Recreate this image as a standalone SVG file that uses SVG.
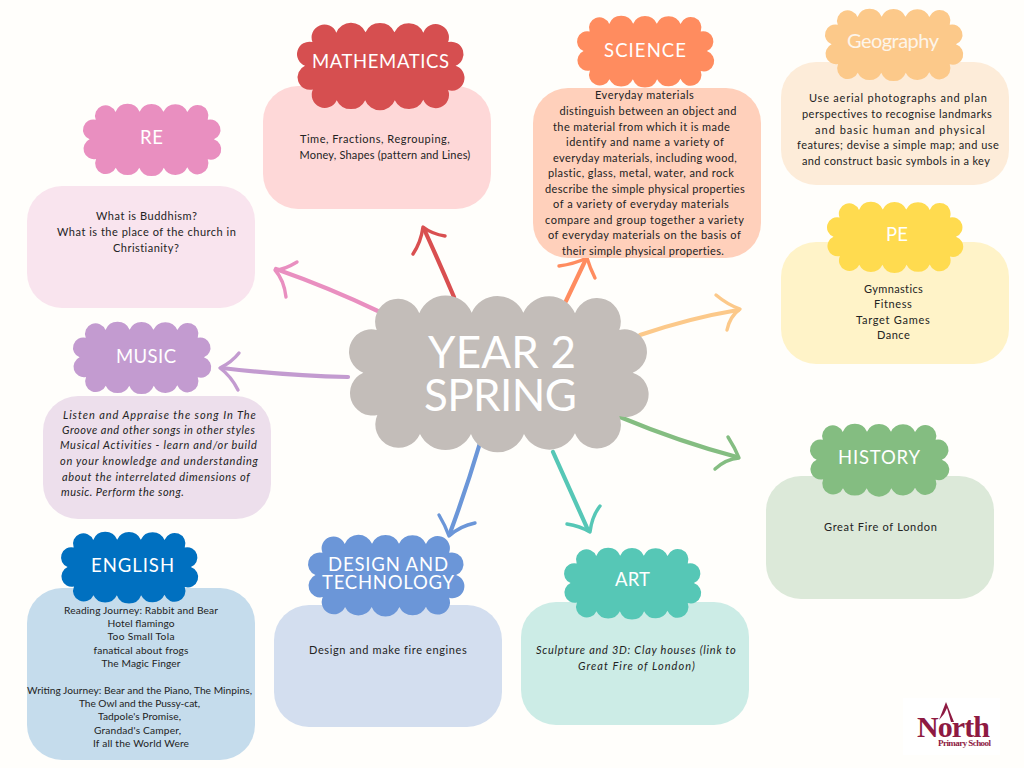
<svg xmlns="http://www.w3.org/2000/svg" width="1024" height="768" viewBox="0 0 1024 768">
<style>
text{font-family:"Lato","Open Sans",sans-serif;text-anchor:middle}
.b{font-size:11px;fill:#232323;letter-spacing:.2px}
.e{font-size:10.2px;fill:#232323}
.i{font-style:italic}
.l{font-size:18.500px;fill:#fff}
.t{font-size:44px;fill:#fff;font-weight:400}
.s{fill:none;stroke-width:4.2;stroke-linecap:round;stroke-linejoin:round}
.h{fill:none;stroke-width:3.4;stroke-linecap:round;stroke-linejoin:round}
.logo{font-family:"Liberation Serif",serif;fill:#8e1a42;font-weight:700}
</style>
<defs>
<path id="big" d="M83 102A60 60 0 0 1 211 52A85 85 0 0 1 368 50A85 85 0 0 1 523 50A85 85 0 0 1 678 52A60 60 0 0 1 811 102A67.200 67.200 0 0 1 851 230A67.200 67.200 0 0 1 811 360A60 60 0 0 1 678 412A85 85 0 0 1 525 414A85 85 0 0 1 366 414A85 85 0 0 1 213 414A60 60 0 0 1 85 357A67.200 67.200 0 0 1 43 230A67.200 67.200 0 0 1 83 102Z"/>
</defs>
<rect width="1024" height="768" fill="#fffefb"/>
<g id="connectors">
<g stroke="#e98fc0"><path class="s" d="M380 312Q330 288 276 269"/><path class="h" d="M297 262Q284 270 275 270Q284 280 286 297"/></g>
<g stroke="#d94f50"><path class="s" d="M454 297Q440 264 424 229"/><path class="h" d="M445 236Q432 234 423 227Q421 242 413 254"/></g>
<g stroke="#c39bd0"><path class="s" d="M348 377Q290 376 222 368"/><path class="h" d="M239 353Q232 362 220 368Q231 376 238 390"/></g>
<g stroke="#ff8c5f"><path class="s" d="M566 301Q576 280 586 259"/><path class="h" d="M559 266Q574 264 587 258Q590 268 595 278"/></g>
<g stroke="#fcc98a"><path class="s" d="M640 335Q690 318 738 310"/><path class="h" d="M716 295Q728 305 740 309Q730 316 727 330"/></g>
<g stroke="#84bd81"><path class="s" d="M620 417Q680 442 737 457"/><path class="h" d="M728 437Q735 448 739 458Q726 459 715 469"/></g>
<g stroke="#6b96d8"><path class="s" d="M480 443Q466 490 450 533"/><path class="h" d="M439 515Q445 525 449 536Q460 526 475 523"/></g>
<g stroke="#56c7b6"><path class="s" d="M553 452Q570 490 588 530"/><path class="h" d="M567 524Q580 526 590 532Q592 516 600 506"/></g>
</g>
<g id="re"><rect x="27" y="186" width="228" height="122" rx="35" fill="#f9e4ee"/><use href="#big" transform="translate(83 104) scale(.1538)" fill="#e98fc0"/><text class="l" x="151.500" y="144" textLength="23">RE</text>
<text class="b" x="146.500" y="220" textLength="101">What is Buddhism?</text><text class="b" x="146.500" y="236" textLength="179">What is the place of the church in</text><text class="b" x="146" y="252" textLength="66">Christianity?</text></g>
<g id="mathematics"><rect x="263" y="86" width="228" height="123" rx="35" fill="#fed8d8"/><use href="#big" transform="translate(297 23) scale(.1863)" fill="#d64f50"/><text class="l" x="380.500" y="68" textLength="137">MATHEMATICS</text>
<text class="b" x="375" y="143" textLength="150">Time, Fractions, Regrouping,</text><text class="b" x="385" y="159" textLength="171">Money, Shapes (pattern and Lines)</text></g>
<g id="science"><rect x="533" y="88" width="228" height="170" rx="35" fill="#ffd0bb"/><use href="#big" transform="translate(577 16) scale(.1526)" fill="#ff8c5f"/><text class="l" x="645" y="57" textLength="82">SCIENCE</text>
<text class="b" x="644.500" y="99" textLength="99">Everyday materials</text><text class="b" x="648" y="115" textLength="177">distinguish between an object and</text><text class="b" x="641.500" y="131" textLength="177">the material from which it is made</text><text class="b" x="645" y="146" textLength="158">identify and name a variety of</text><text class="b" x="645" y="162" textLength="184">everyday materials, including wood,</text><text class="b" x="641" y="177" textLength="186">plastic, glass, metal, water, and rock</text><text class="b" x="645" y="193" textLength="200">describe the simple physical properties</text><text class="b" x="641" y="208" textLength="176">of a variety of everyday materials</text><text class="b" x="644.500" y="224" textLength="199">compare and group together a variety</text><text class="b" x="644.500" y="239" textLength="193">of everyday materials on the basis of</text><text class="b" x="643" y="255" textLength="162">their simple physical properties.</text></g>
<g id="geography"><rect x="781" y="62" width="228" height="123" rx="35" fill="#fdecd9"/><use href="#big" transform="translate(825 9) scale(.1538)" fill="#fcc98a"/><text class="l" x="893" y="48" textLength="92" style="font-size:20px;fill:#fdf5ea">Geography</text>
<text class="b" x="898" y="102" textLength="178">Use aerial photographs and plan</text><text class="b" x="897" y="118" textLength="190">perspectives to recognise landmarks</text><text class="b" x="900" y="134" textLength="170">and basic human and physical</text><text class="b" x="898" y="149" textLength="202">features; devise a simple map; and use</text><text class="b" x="896" y="165" textLength="188">and construct basic symbols in a key</text></g>
<g id="pe"><rect x="781" y="242" width="228" height="122" rx="35" fill="#fff3c8"/><use href="#big" transform="translate(827 202) scale(.1515)" fill="#ffdb4f"/><text class="l" x="897" y="241" textLength="22">PE</text>
<text class="b" x="893.500" y="293" textLength="59">Gymnastics</text><text class="b" x="893" y="308" textLength="38">Fitness</text><text class="b" x="893" y="324" textLength="74">Target Games</text><text class="b" x="893.500" y="339" textLength="33">Dance</text></g>
<g id="music"><rect x="43" y="396" width="228" height="123" rx="35" fill="#eddfec"/><use href="#big" transform="translate(73 322) scale(.1538)" fill="#c39bd0"/><text class="l" x="146" y="363" textLength="60">MUSIC</text>
<text class="b i" x="159.500" y="419" textLength="193">Listen and Appraise the song In The</text><text class="b i" x="158.500" y="434" textLength="193">Groove and other songs in other styles</text><text class="b i" x="158.500" y="449" textLength="197">Musical Activities - learn and/or build</text><text class="b i" x="159" y="465" textLength="198">on your knowledge and understanding</text><text class="b i" x="156" y="481" textLength="188">about the interrelated dimensions of</text><text class="b i" x="122.500" y="496" textLength="123">music. Perform the song.</text></g>
<g id="history"><rect x="766" y="476" width="228" height="123" rx="35" fill="#dce9d9"/><use href="#big" transform="translate(810 424) scale(.1549)" fill="#84bd81"/><text class="l" x="879" y="464" textLength="82">HISTORY</text>
<text class="b" x="880.500" y="531" textLength="113">Great Fire of London</text></g>
<g id="english"><rect x="27" y="588" width="228" height="172" rx="35" fill="#c5dcec"/><use href="#big" transform="translate(61 532) scale(.1526)" fill="#0070c0"/><text class="l" x="132.500" y="572" textLength="83">ENGLISH</text>
<text class="e" x="141" y="614" textLength="154">Reading Journey: Rabbit and Bear</text><text class="e" x="141" y="627" textLength="67">Hotel flamingo</text><text class="e" x="141" y="640" textLength="67">Too Small Tola</text><text class="e" x="141" y="654" textLength="95">fanatical about frogs</text><text class="e" x="141" y="667" textLength="79">The Magic Finger</text><text class="e" x="139.500" y="694" textLength="225">Writing Journey: Bear and the Piano, The Minpins,</text><text class="e" x="139.500" y="707" textLength="121">The Owl and the Pussy-cat,</text><text class="e" x="139.500" y="720" textLength="83">Tadpole's Promise,</text><text class="e" x="137.500" y="734" textLength="87">Grandad's Camper,</text><text class="e" x="141" y="747" textLength="96">If all the World Were</text></g>
<g id="design"><rect x="274" y="605" width="228" height="122" rx="35" fill="#d3deef"/><use href="#big" transform="translate(308 535) scale(.174)" fill="#6b96d8"/><text class="l" x="388" y="571" textLength="120">DESIGN AND</text><text class="l" x="388" y="589" textLength="132">TECHNOLOGY</text>
<text class="b" x="388" y="654" textLength="158">Design and make fire engines</text></g>
<g id="art"><rect x="521" y="602" width="228" height="123" rx="35" fill="#ccece6"/><use href="#big" transform="translate(564 548) scale(.1526)" fill="#56c7b6"/><text class="l" x="632.500" y="586" textLength="35">ART</text>
<text class="b i" x="636" y="654" textLength="200">Sculpture and 3D: Clay houses (link to</text><text class="b i" x="636.500" y="670" textLength="117">Great Fire of London)</text></g>
<g id="year2"><use href="#big" transform="translate(349 296) scale(.3333)" fill="#c3bdb9"/><text class="t" x="502" y="368" textLength="148">YEAR 2</text><text class="t" x="500.500" y="411" textLength="153">SPRING</text></g>
<g id="logo"><rect x="903" y="698" width="97" height="57" fill="#fff"/><path d="M946 702L939 720L944 714L947 708L951 722L954 722Z" fill="#8e1a42"/><text class="logo" x="953.500" y="737" font-size="30" textLength="73">North</text><text class="logo" x="964.500" y="746" font-size="9" textLength="53">Primary School</text></g>
</svg>
